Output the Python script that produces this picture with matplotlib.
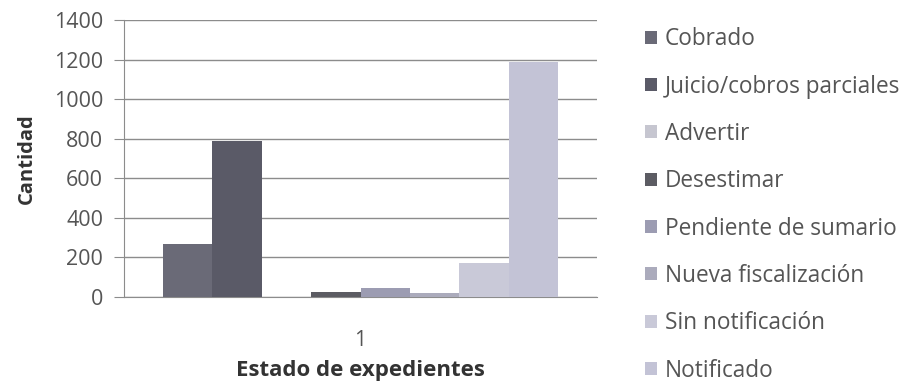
import matplotlib.pyplot as plt
import numpy as np

plt.rcParams['font.family'] = ['Open Sans', 'DejaVu Sans']

estados = ["Cobrado", "Juicio/cobros parciales", "Advertir", "Desestimar",
           "Pendiente de sumario", "Nueva fiscalización", "Sin notificación",
           "Notificado"]
cantidades = [270, 790, 0, 25, 45, 20, 170, 1190]
colores = ["#6a6a77", "#5a5a67", "#c6c6d0", "#5c5c63",
           "#9c9cb2", "#ababbc", "#c9c9d8", "#c3c3d6"]
categoria = [1]
y_ticks = [0, 200, 400, 600, 800, 1000, 1200, 1400]

fig = plt.figure(figsize=(9.13, 3.85), dpi=100)
ax = fig.add_axes([124 / 913, 1 - 297 / 385, 473 / 913, 277 / 385])

n = len(estados)
ancho = 0.835 / n
offsets = (np.arange(n) - (n - 1) / 2) * ancho
for i in range(n):
    ax.bar(categoria[0] + offsets[i], cantidades[i], width=ancho,
           color=colores[i], label=estados[i], zorder=3)

ax.set_xlim(0.5, 1.5)
ax.set_ylim(0, 1400)
ax.set_yticks(y_ticks)
ax.set_xticks(categoria)
ax.yaxis.grid(True, color="#8c8c8c", linewidth=1.0, zorder=0)
for s in ["top", "right"]:
    ax.spines[s].set_visible(False)
ax.spines["left"].set_color("#8c8c8c")
ax.spines["bottom"].set_color("#8c8c8c")
ax.tick_params(axis="y", colors="#8c8c8c", labelcolor="#555555",
               length=7, labelsize=15.5, pad=8)
ax.tick_params(axis="x", length=0, labelcolor="#555555", labelsize=15, pad=24)

ax.set_ylabel("Cantidad", fontsize=14.5, fontweight="bold", color="#333333",
              labelpad=12)
ax.set_xlabel("Estado de expedientes", fontsize=16, fontweight="bold",
              color="#333333", labelpad=6)

fig.legend(loc="upper left", bbox_to_anchor=(634 / 913, 1 - 16 / 385),
           frameon=False, fontsize=16.3, handlelength=0.5, handleheight=0.5,
           handletextpad=0.35, labelspacing=1.03, labelcolor="#555555",
           borderpad=0)

fig.savefig("out.png", dpi=100)
